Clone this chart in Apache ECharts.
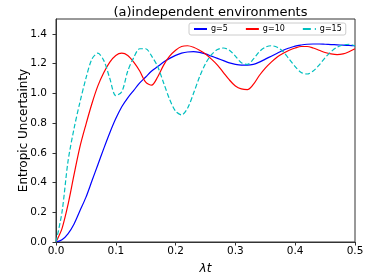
<!DOCTYPE html>
<html><head><meta charset="utf-8">
<script src="https://cdn.jsdelivr.net/npm/echarts@6/dist/echarts.min.js"></script>
<style>html,body{margin:0;padding:0;background:#fff}#c{width:374px;height:280px}</style>
</head><body><div id="c"></div>
<script>
var tValues = [0.00,0.01,0.02,0.03,0.04,0.05,0.06,0.07,0.08,0.09,0.10,0.11,0.12,0.13,0.14,0.15,0.16,0.17,0.18,0.19,0.20,0.21,0.22,0.23,0.24,0.25,0.26,0.27,0.28,0.29,0.30,0.31,0.32,0.33,0.34,0.35,0.36,0.37,0.38,0.39,0.40,0.41,0.42,0.43,0.44,0.45,0.46,0.47,0.48,0.49,0.50];
var g5 = [0,0.015,0.055,0.12,0.21,0.30,0.41,0.52,0.63,0.735,0.83,0.91,0.97,1.02,1.07,1.11,1.15,1.18,1.21,1.235,1.255,1.27,1.278,1.28,1.275,1.265,1.25,1.235,1.22,1.205,1.195,1.19,1.19,1.195,1.21,1.23,1.25,1.27,1.29,1.305,1.318,1.325,1.33,1.332,1.332,1.33,1.328,1.326,1.324,1.322,1.32];
var g10 = [0,0.09,0.25,0.45,0.64,0.79,0.93,1.05,1.14,1.21,1.255,1.27,1.255,1.21,1.15,1.075,1.055,1.11,1.19,1.25,1.29,1.315,1.32,1.31,1.29,1.265,1.23,1.19,1.14,1.09,1.05,1.03,1.025,1.06,1.12,1.17,1.21,1.245,1.27,1.29,1.305,1.315,1.315,1.305,1.29,1.275,1.265,1.26,1.265,1.28,1.30];
var g15 = [0,0.20,0.54,0.76,0.94,1.10,1.23,1.27,1.22,1.10,0.985,1.01,1.15,1.24,1.30,1.30,1.25,1.18,1.07,0.96,0.88,0.855,0.90,1.00,1.11,1.20,1.26,1.295,1.305,1.29,1.25,1.205,1.195,1.23,1.28,1.31,1.32,1.31,1.28,1.23,1.18,1.14,1.13,1.15,1.19,1.24,1.28,1.31,1.325,1.33,1.32];
var seriesNames = ['g=5','g=10','g=15'];
var xTicks = ['0.0','0.1','0.2','0.3','0.4','0.5'];
var yTicks = ['0.0','0.2','0.4','0.6','0.8','1.0','1.2','1.4'];

function pairs(arr){ return tValues.map(function(t,i){ return [t, arr[i]]; }); }
var font = 'DejaVu Sans';
var chart = echarts.init(document.getElementById('c'), null, {renderer:'canvas'});
function mk(name, data, color, type){
  return {name:name, type:'line', data:pairs(data), symbol:'none', showSymbol:false, smooth:0.3,
    lineStyle:{color:color, width:1.2, type:type}, itemStyle:{color:color}};
}
chart.setOption({
  animation:false,
  title:{text:'(a)independent environments', left:205.5, textAlign:'center', top:1,
    textStyle:{fontFamily:font, fontSize:13, fontWeight:'normal', color:'#000'}},
  legend:{left:189, top:23, padding:[2,4], itemWidth:13, itemHeight:8, itemGap:17,
    borderColor:'#ccc', borderWidth:1, borderRadius:2, backgroundColor:'#fff',
    itemStyle:{opacity:0},
    textStyle:{fontFamily:font, fontSize:8, color:'#000', padding:[0,0,0,-1]},
    data:seriesNames},
  grid:{left:56, right:19, top:19, bottom:37, show:true, borderColor:'#333', borderWidth:1},
  xAxis:{type:'value', min:0, max:0.5, interval:0.1,
    name:'λt', nameLocation:'middle', nameGap:21,
    nameTextStyle:{fontFamily:font, fontSize:12, fontStyle:'italic', color:'#000'},
    axisLine:{show:true, lineStyle:{color:'#333'}},
    axisTick:{show:true, length:3.5, lineStyle:{color:'#333'}},
    axisLabel:{fontFamily:font, fontSize:10.5, color:'#000', margin:4,
      formatter:function(v){ var i=Math.round(v*10); return xTicks[i]; }},
    splitLine:{show:false}},
  yAxis:{type:'value', min:0, max:1.5, interval:0.2,
    name:'Entropic Uncertainty', nameLocation:'middle', nameGap:26, nameMoveOverlap:false,
    nameTextStyle:{fontFamily:font, fontSize:12, color:'#000'},
    axisLine:{show:true, lineStyle:{color:'#333'}},
    axisTick:{show:true, length:3.5, lineStyle:{color:'#333'}},
    axisLabel:{fontFamily:font, fontSize:10.5, color:'#000', margin:9, showMaxLabel:false,
      formatter:function(v){ var i=Math.round(v*5); return yTicks[i]||''; }},
    splitLine:{show:false}},
  series:[mk('g=5',g5,'#0000ff','solid'), mk('g=10',g10,'#ff0000','solid'), mk('g=15',g15,'#00bfbf','dashed')]
});
</script></body></html>
